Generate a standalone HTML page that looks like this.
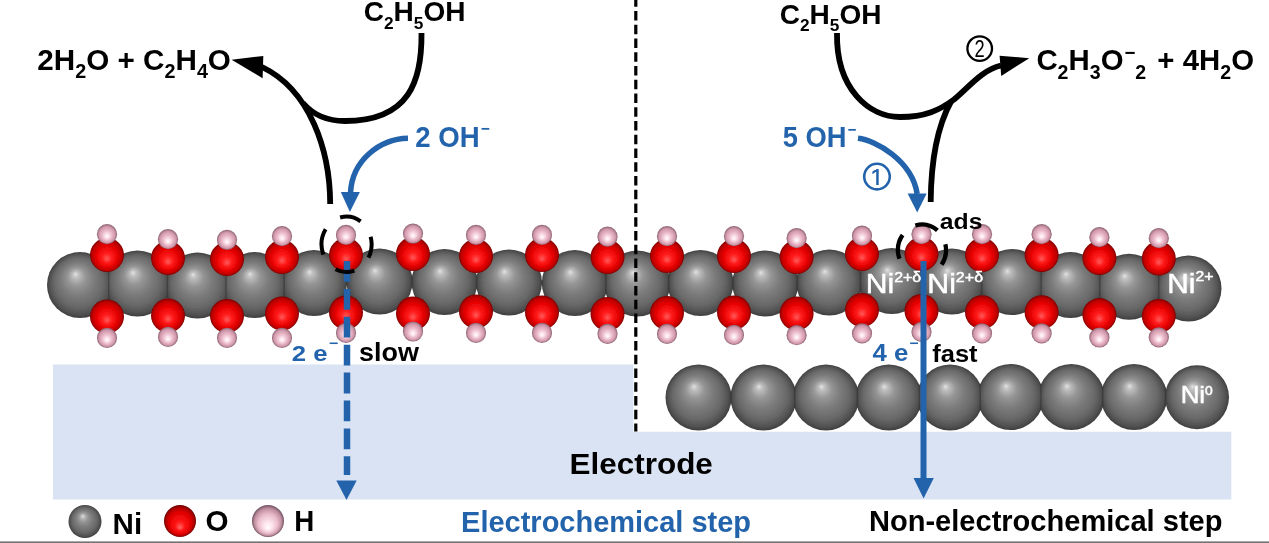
<!DOCTYPE html>
<html><head><meta charset="utf-8"><style>
html,body{margin:0;padding:0;background:#fff;width:1269px;height:543px;overflow:hidden}
svg{display:block}
text{font-family:"Liberation Sans",sans-serif;font-weight:bold;font-kerning:none}
</style></head><body>
<svg width="1269" height="543" viewBox="0 0 1269 543">
<defs>
<clipPath id="c0_0"><rect x="663.50" y="362.50" width="68.10" height="70.00"/></clipPath><clipPath id="c0_1"><rect x="730.40" y="362.50" width="64.95" height="70.00"/></clipPath><clipPath id="c0_2"><rect x="794.15" y="362.50" width="63.85" height="70.00"/></clipPath><clipPath id="c0_3"><rect x="856.80" y="362.50" width="63.20" height="70.00"/></clipPath><clipPath id="c0_4"><rect x="918.80" y="362.50" width="62.10" height="70.00"/></clipPath><clipPath id="c0_5"><rect x="979.70" y="362.00" width="61.90" height="70.00"/></clipPath><clipPath id="c0_6"><rect x="1040.40" y="362.00" width="62.90" height="70.00"/></clipPath><clipPath id="c0_7"><rect x="1102.10" y="362.00" width="64.00" height="70.00"/></clipPath><clipPath id="c0_8"><rect x="1164.90" y="363.30" width="66.10" height="68.00"/></clipPath><clipPath id="c1_0"><rect x="45.00" y="250.00" width="64.35" height="70.00"/></clipPath><clipPath id="c1_1"><rect x="108.15" y="248.50" width="59.95" height="70.00"/></clipPath><clipPath id="c1_2"><rect x="166.90" y="250.50" width="59.70" height="70.00"/></clipPath><clipPath id="c1_3"><rect x="225.40" y="250.00" width="59.45" height="70.00"/></clipPath><clipPath id="c1_4"><rect x="283.65" y="248.00" width="63.70" height="70.00"/></clipPath><clipPath id="c1_5"><rect x="346.15" y="246.50" width="66.45" height="70.00"/></clipPath><clipPath id="c1_6"><rect x="411.40" y="247.00" width="65.95" height="70.00"/></clipPath><clipPath id="c1_7"><rect x="476.15" y="247.50" width="66.33" height="70.00"/></clipPath><clipPath id="c1_8"><rect x="541.27" y="248.00" width="65.33" height="70.00"/></clipPath><clipPath id="c1_9"><rect x="605.40" y="248.50" width="64.08" height="70.00"/></clipPath><clipPath id="c1_10"><rect x="668.27" y="248.00" width="65.23" height="70.00"/></clipPath><clipPath id="c1_11"><rect x="732.30" y="248.50" width="65.60" height="70.00"/></clipPath><clipPath id="c1_12"><rect x="796.70" y="247.50" width="64.43" height="70.00"/></clipPath><clipPath id="c1_13"><rect x="859.92" y="246.00" width="62.43" height="70.00"/></clipPath><clipPath id="c1_14"><rect x="921.15" y="246.50" width="61.23" height="70.00"/></clipPath><clipPath id="c1_15"><rect x="981.17" y="247.00" width="60.58" height="70.00"/></clipPath><clipPath id="c1_16"><rect x="1040.55" y="250.00" width="59.85" height="70.00"/></clipPath><clipPath id="c1_17"><rect x="1099.20" y="251.75" width="60.20" height="70.00"/></clipPath><clipPath id="c1_18"><rect x="1158.20" y="253.50" width="65.30" height="70.00"/></clipPath>
<filter id="bl" x="0" y="0" width="1269" height="543" filterUnits="userSpaceOnUse"><feGaussianBlur stdDeviation="0.5"/></filter>
<radialGradient id="gNi" cx="0.5" cy="0.5" r="0.5" fx="0.43" fy="0.33">
<stop offset="0" stop-color="#e2e2e2"/><stop offset="0.1" stop-color="#bdbdbd"/><stop offset="0.28" stop-color="#959595"/><stop offset="0.5" stop-color="#7c7c7c"/><stop offset="0.75" stop-color="#686868"/><stop offset="0.92" stop-color="#505050"/><stop offset="1" stop-color="#3e3e3e"/>
</radialGradient>
<radialGradient id="gO" cx="0.5" cy="0.5" r="0.5" fx="0.5" fy="0.62">
<stop offset="0" stop-color="#ff5a5a"/><stop offset="0.3" stop-color="#ff1a1a"/><stop offset="0.65" stop-color="#e40000"/><stop offset="0.88" stop-color="#bc0000"/><stop offset="1" stop-color="#7e0000"/>
</radialGradient>
<radialGradient id="gH" cx="0.5" cy="0.5" r="0.5" fx="0.5" fy="0.62">
<stop offset="0" stop-color="#ffffff"/><stop offset="0.2" stop-color="#fbe4ec"/><stop offset="0.5" stop-color="#eab8c8"/><stop offset="0.8" stop-color="#cf98aa"/><stop offset="1" stop-color="#8a6070"/>
</radialGradient>
<radialGradient id="gOL" cx="0.5" cy="0.5" r="0.5" fx="0.5" fy="0.72">
<stop offset="0" stop-color="#ff6a6a"/><stop offset="0.3" stop-color="#ff1414"/><stop offset="0.7" stop-color="#e00000"/><stop offset="0.9" stop-color="#a80000"/><stop offset="1" stop-color="#6a0000"/>
</radialGradient>
<radialGradient id="gHL" cx="0.5" cy="0.5" r="0.5" fx="0.5" fy="0.72">
<stop offset="0" stop-color="#ffffff"/><stop offset="0.25" stop-color="#fde6ee"/><stop offset="0.6" stop-color="#ebbccb"/><stop offset="0.85" stop-color="#be8e9e"/><stop offset="1" stop-color="#6e5060"/>
</radialGradient>
</defs>
<g filter="url(#bl)">
<rect width="1269" height="543" fill="#fff"/>
<path d="M53 364.5 H633.4 V431.8 H1231.3 V499.5 H53 Z" fill="#dae3f3"/>
<circle cx="698.5" cy="397.5" r="33" fill="url(#gNi)" clip-path="url(#c0_0)"/>
<circle cx="763.5" cy="397.5" r="33" fill="url(#gNi)" clip-path="url(#c0_1)"/>
<circle cx="826.0" cy="397.5" r="33" fill="url(#gNi)" clip-path="url(#c0_2)"/>
<circle cx="888.8" cy="397.5" r="33" fill="url(#gNi)" clip-path="url(#c0_3)"/>
<circle cx="950.0" cy="397.5" r="33" fill="url(#gNi)" clip-path="url(#c0_4)"/>
<circle cx="1010.6" cy="397.0" r="33" fill="url(#gNi)" clip-path="url(#c0_5)"/>
<circle cx="1071.4" cy="397.0" r="33" fill="url(#gNi)" clip-path="url(#c0_6)"/>
<circle cx="1134.0" cy="397.0" r="33" fill="url(#gNi)" clip-path="url(#c0_7)"/>
<circle cx="1197.0" cy="397.3" r="32" fill="url(#gNi)" clip-path="url(#c0_8)"/>
<line x1="731.00" y1="391.78" x2="731.00" y2="403.22" stroke="#333" stroke-opacity="0.55" stroke-width="1.3"/>
<line x1="794.75" y1="386.90" x2="794.75" y2="408.10" stroke="#333" stroke-opacity="0.55" stroke-width="1.3"/>
<line x1="857.40" y1="387.35" x2="857.40" y2="407.65" stroke="#333" stroke-opacity="0.55" stroke-width="1.3"/>
<line x1="919.40" y1="385.15" x2="919.40" y2="409.85" stroke="#333" stroke-opacity="0.55" stroke-width="1.3"/>
<line x1="980.30" y1="384.18" x2="980.30" y2="410.32" stroke="#333" stroke-opacity="0.55" stroke-width="1.3"/>
<line x1="1041.00" y1="384.16" x2="1041.00" y2="409.84" stroke="#333" stroke-opacity="0.55" stroke-width="1.3"/>
<line x1="1102.70" y1="386.54" x2="1102.70" y2="407.46" stroke="#333" stroke-opacity="0.55" stroke-width="1.3"/>
<line x1="1165.50" y1="387.31" x2="1165.50" y2="406.99" stroke="#333" stroke-opacity="0.55" stroke-width="1.3"/>
<circle cx="80.0" cy="285.0" r="33" fill="url(#gNi)" clip-path="url(#c1_0)"/>
<circle cx="137.5" cy="283.5" r="33" fill="url(#gNi)" clip-path="url(#c1_1)"/>
<circle cx="197.5" cy="285.5" r="33" fill="url(#gNi)" clip-path="url(#c1_2)"/>
<circle cx="254.5" cy="285.0" r="33" fill="url(#gNi)" clip-path="url(#c1_3)"/>
<circle cx="314.0" cy="283.0" r="33" fill="url(#gNi)" clip-path="url(#c1_4)"/>
<circle cx="379.5" cy="281.5" r="33" fill="url(#gNi)" clip-path="url(#c1_5)"/>
<circle cx="444.5" cy="282.0" r="33" fill="url(#gNi)" clip-path="url(#c1_6)"/>
<circle cx="509.0" cy="282.5" r="33" fill="url(#gNi)" clip-path="url(#c1_7)"/>
<circle cx="574.8" cy="283.0" r="33" fill="url(#gNi)" clip-path="url(#c1_8)"/>
<circle cx="637.2" cy="283.5" r="33" fill="url(#gNi)" clip-path="url(#c1_9)"/>
<circle cx="700.5" cy="283.0" r="33" fill="url(#gNi)" clip-path="url(#c1_10)"/>
<circle cx="765.3" cy="283.5" r="33" fill="url(#gNi)" clip-path="url(#c1_11)"/>
<circle cx="829.3" cy="282.5" r="33" fill="url(#gNi)" clip-path="url(#c1_12)"/>
<circle cx="891.8" cy="281.0" r="33" fill="url(#gNi)" clip-path="url(#c1_13)"/>
<circle cx="951.8" cy="281.5" r="33" fill="url(#gNi)" clip-path="url(#c1_14)"/>
<circle cx="1011.8" cy="282.0" r="33" fill="url(#gNi)" clip-path="url(#c1_15)"/>
<circle cx="1070.5" cy="285.0" r="33" fill="url(#gNi)" clip-path="url(#c1_16)"/>
<circle cx="1129.1" cy="286.8" r="33" fill="url(#gNi)" clip-path="url(#c1_17)"/>
<circle cx="1188.5" cy="288.5" r="33" fill="url(#gNi)" clip-path="url(#c1_18)"/>
<line x1="108.75" y1="268.05" x2="108.75" y2="300.45" stroke="#333" stroke-opacity="0.55" stroke-width="1.3"/>
<line x1="167.50" y1="270.75" x2="167.50" y2="298.25" stroke="#333" stroke-opacity="0.55" stroke-width="1.3"/>
<line x1="226.00" y1="268.61" x2="226.00" y2="301.89" stroke="#333" stroke-opacity="0.55" stroke-width="1.3"/>
<line x1="284.25" y1="269.72" x2="284.25" y2="298.28" stroke="#333" stroke-opacity="0.55" stroke-width="1.3"/>
<line x1="346.75" y1="278.20" x2="346.75" y2="286.30" stroke="#333" stroke-opacity="0.55" stroke-width="1.3"/>
<line x1="412.00" y1="276.03" x2="412.00" y2="287.47" stroke="#333" stroke-opacity="0.55" stroke-width="1.3"/>
<line x1="476.75" y1="275.25" x2="476.75" y2="289.25" stroke="#333" stroke-opacity="0.55" stroke-width="1.3"/>
<line x1="541.88" y1="279.88" x2="541.88" y2="285.62" stroke="#333" stroke-opacity="0.55" stroke-width="1.3"/>
<line x1="606.00" y1="272.65" x2="606.00" y2="293.85" stroke="#333" stroke-opacity="0.55" stroke-width="1.3"/>
<line x1="668.88" y1="273.82" x2="668.88" y2="292.68" stroke="#333" stroke-opacity="0.55" stroke-width="1.3"/>
<line x1="732.90" y1="276.99" x2="732.90" y2="289.51" stroke="#333" stroke-opacity="0.55" stroke-width="1.3"/>
<line x1="797.30" y1="274.94" x2="797.30" y2="291.06" stroke="#333" stroke-opacity="0.55" stroke-width="1.3"/>
<line x1="860.52" y1="271.07" x2="860.52" y2="292.43" stroke="#333" stroke-opacity="0.55" stroke-width="1.3"/>
<line x1="921.75" y1="267.50" x2="921.75" y2="295.00" stroke="#333" stroke-opacity="0.55" stroke-width="1.3"/>
<line x1="981.77" y1="268.06" x2="981.77" y2="295.44" stroke="#333" stroke-opacity="0.55" stroke-width="1.3"/>
<line x1="1041.15" y1="268.41" x2="1041.15" y2="298.59" stroke="#333" stroke-opacity="0.55" stroke-width="1.3"/>
<line x1="1099.80" y1="270.69" x2="1099.80" y2="301.06" stroke="#333" stroke-opacity="0.55" stroke-width="1.3"/>
<line x1="1158.80" y1="273.24" x2="1158.80" y2="302.01" stroke="#333" stroke-opacity="0.55" stroke-width="1.3"/>
<circle cx="107.0" cy="255.0" r="17" fill="url(#gO)"/>
<circle cx="107.0" cy="316.5" r="17" fill="url(#gO)"/>
<circle cx="168.0" cy="258.0" r="17" fill="url(#gO)"/>
<circle cx="168.0" cy="315.5" r="17" fill="url(#gO)"/>
<circle cx="227.0" cy="259.0" r="17" fill="url(#gO)"/>
<circle cx="227.0" cy="316.0" r="17" fill="url(#gO)"/>
<circle cx="282.0" cy="257.0" r="17" fill="url(#gO)"/>
<circle cx="282.0" cy="313.5" r="17" fill="url(#gO)"/>
<circle cx="346.0" cy="255.0" r="17" fill="url(#gO)"/>
<circle cx="346.0" cy="312.5" r="17" fill="url(#gO)"/>
<circle cx="413.0" cy="254.0" r="17" fill="url(#gO)"/>
<circle cx="413.0" cy="313.5" r="17" fill="url(#gO)"/>
<circle cx="476.0" cy="256.0" r="17" fill="url(#gO)"/>
<circle cx="476.0" cy="311.5" r="17" fill="url(#gO)"/>
<circle cx="542.0" cy="255.0" r="17" fill="url(#gO)"/>
<circle cx="542.0" cy="312.5" r="17" fill="url(#gO)"/>
<circle cx="607.5" cy="257.0" r="17" fill="url(#gO)"/>
<circle cx="607.5" cy="313.9" r="17" fill="url(#gO)"/>
<circle cx="667.0" cy="256.0" r="17" fill="url(#gO)"/>
<circle cx="667.0" cy="313.0" r="17" fill="url(#gO)"/>
<circle cx="734.0" cy="256.0" r="17" fill="url(#gO)"/>
<circle cx="734.0" cy="312.5" r="17" fill="url(#gO)"/>
<circle cx="796.6" cy="257.0" r="17" fill="url(#gO)"/>
<circle cx="796.6" cy="313.5" r="17" fill="url(#gO)"/>
<circle cx="862.0" cy="254.0" r="17" fill="url(#gO)"/>
<circle cx="862.0" cy="310.0" r="17" fill="url(#gO)"/>
<circle cx="921.5" cy="254.0" r="17" fill="url(#gO)"/>
<circle cx="921.5" cy="311.0" r="17" fill="url(#gO)"/>
<circle cx="982.0" cy="255.0" r="17" fill="url(#gO)"/>
<circle cx="982.0" cy="312.3" r="17" fill="url(#gO)"/>
<circle cx="1041.6" cy="255.0" r="17" fill="url(#gO)"/>
<circle cx="1041.6" cy="312.3" r="17" fill="url(#gO)"/>
<circle cx="1099.4" cy="258.0" r="17" fill="url(#gO)"/>
<circle cx="1099.4" cy="315.1" r="17" fill="url(#gO)"/>
<circle cx="1158.8" cy="258.5" r="17" fill="url(#gO)"/>
<circle cx="1158.8" cy="316.0" r="17" fill="url(#gO)"/>
<circle cx="107.0" cy="234.2" r="10.1" fill="url(#gH)"/>
<circle cx="168.0" cy="239.2" r="10.1" fill="url(#gH)"/>
<circle cx="227.0" cy="239.8" r="10.1" fill="url(#gH)"/>
<circle cx="282.0" cy="236.2" r="10.1" fill="url(#gH)"/>
<circle cx="346.0" cy="234.9" r="10.1" fill="url(#gH)"/>
<circle cx="413.0" cy="233.6" r="10.1" fill="url(#gH)"/>
<circle cx="476.0" cy="234.9" r="10.1" fill="url(#gH)"/>
<circle cx="542.0" cy="234.9" r="10.1" fill="url(#gH)"/>
<circle cx="607.5" cy="236.7" r="10.1" fill="url(#gH)"/>
<circle cx="667.0" cy="236.2" r="10.1" fill="url(#gH)"/>
<circle cx="734.0" cy="236.2" r="10.1" fill="url(#gH)"/>
<circle cx="796.6" cy="238.2" r="10.1" fill="url(#gH)"/>
<circle cx="862.0" cy="235.7" r="10.1" fill="url(#gH)"/>
<circle cx="921.5" cy="234.2" r="10.1" fill="url(#gH)"/>
<circle cx="982.0" cy="234.2" r="10.1" fill="url(#gH)"/>
<circle cx="1041.6" cy="234.2" r="10.1" fill="url(#gH)"/>
<circle cx="1099.4" cy="237.2" r="10.1" fill="url(#gH)"/>
<circle cx="1158.8" cy="238.2" r="10.1" fill="url(#gH)"/>
<circle cx="107.0" cy="337.8" r="10.1" fill="url(#gH)"/>
<circle cx="168.0" cy="336.8" r="10.1" fill="url(#gH)"/>
<circle cx="227.0" cy="337.8" r="10.1" fill="url(#gH)"/>
<circle cx="282.0" cy="337.8" r="10.1" fill="url(#gH)"/>
<circle cx="346.0" cy="332.8" r="10.1" fill="url(#gH)"/>
<circle cx="413.0" cy="331.5" r="10.1" fill="url(#gH)"/>
<circle cx="476.0" cy="332.8" r="10.1" fill="url(#gH)"/>
<circle cx="542.0" cy="332.8" r="10.1" fill="url(#gH)"/>
<circle cx="607.5" cy="333.8" r="10.1" fill="url(#gH)"/>
<circle cx="667.0" cy="333.8" r="10.1" fill="url(#gH)"/>
<circle cx="734.0" cy="334.8" r="10.1" fill="url(#gH)"/>
<circle cx="796.6" cy="335.2" r="10.1" fill="url(#gH)"/>
<circle cx="862.0" cy="333.4" r="10.1" fill="url(#gH)"/>
<circle cx="921.5" cy="331.8" r="10.1" fill="url(#gH)"/>
<circle cx="982.0" cy="333.4" r="10.1" fill="url(#gH)"/>
<circle cx="1041.6" cy="333.4" r="10.1" fill="url(#gH)"/>
<circle cx="1099.4" cy="337.5" r="10.1" fill="url(#gH)"/>
<circle cx="1158.8" cy="337.3" r="10.1" fill="url(#gH)"/>
<line x1="635.8" y1="0" x2="635.8" y2="431.5" stroke="#000" stroke-width="3.2" stroke-dasharray="9.5 4.25" stroke-dashoffset="2.75"/>
<rect x="0" y="541.4" width="1269" height="1.6" fill="#737373"/>
<g fill="none" stroke="#000" stroke-width="5.8">
<path d="M421.5 33 C422 80 410 121 345 121 C328 121 314 116 303 103"/>
<path d="M330.2 204 C330 150 310 90 262 67"/>
<path d="M837 33 C836 90 870 117 900 117 C925 117 940 110 954 99.5 C970 86 982 70 1001 65.5"/>
<path d="M930.7 202 C931 160 937 127 951 101.5"/>
</g>
<path d="M231.6 59.7 L263.3 56 L262.6 78.2 Z" fill="#000"/>
<path d="M1029.3 58.2 L999.6 55.7 L1001.2 76 Z" fill="#000"/>
<g fill="none" stroke="#2464ac" stroke-width="5.5">
<path d="M408 138.3 C380 139 352 160 350.5 193"/>
<path d="M858 138.3 C875 140 912 160 917.2 194"/>
<line x1="347" y1="261" x2="347" y2="475" stroke-width="6.5" stroke-dasharray="20.8 7.1"/>
<line x1="923.5" y1="261" x2="923.5" y2="481" stroke-width="6"/>
</g>
<path d="M340.8 192.1 L359.9 192.1 L349.9 212 Z" fill="#2464ac"/>
<path d="M907.6 193.4 L926.7 193.4 L917.2 212.4 Z" fill="#2464ac"/>
<path d="M336.3 480.5 L356.7 480.5 L346.5 500 Z" fill="#2464ac"/>
<path d="M913.5 478 L933.8 478 L923.6 498.5 Z" fill="#2464ac"/>
<path d="M340.13 217.54 A25 27.7 0 0 1 360.58 221.34 M370.63 236.66 A25 27.7 0 0 1 368.47 257.73 M354.33 270.64 A25 27.7 0 0 1 335.64 269.20 M323.42 254.68 A25 27.7 0 0 1 325.63 229.21" fill="none" stroke="#000" stroke-width="4"/><path d="M915.38 225.49 A24 25.5 0 0 1 937.43 230.47 M945.38 244.26 A24 25.5 0 0 1 941.66 264.63 M899.45 258.72 A24 25.5 0 0 1 902.58 235.01" fill="none" stroke="#000" stroke-width="4.3"/>
<text transform="translate(37.27,69.50) scale(0.9886,1)" fill="#000"><tspan x="0.00" y="0.00" font-size="30">2H</tspan><tspan x="38.35" y="8.50" font-size="20">2</tspan><tspan x="49.47" y="0.00" font-size="30">O + C</tspan><tspan x="128.66" y="8.50" font-size="20">2</tspan><tspan x="139.79" y="0.00" font-size="30">H</tspan><tspan x="161.45" y="8.50" font-size="20">4</tspan><tspan x="172.57" y="0.00" font-size="30">O</tspan></text>
<text transform="translate(363.65,21.20) scale(1.0167,1)" fill="#000"><tspan x="0.00" y="0.00" font-size="27.6">C</tspan><tspan x="19.93" y="7.50" font-size="17">2</tspan><tspan x="29.39" y="0.00" font-size="27.6">H</tspan><tspan x="49.32" y="7.50" font-size="17">5</tspan><tspan x="58.77" y="0.00" font-size="27.6">OH</tspan></text>
<text transform="translate(779.65,23.60) scale(1.0167,1)" fill="#000"><tspan x="0.00" y="0.00" font-size="27.6">C</tspan><tspan x="19.93" y="7.50" font-size="17">2</tspan><tspan x="29.39" y="0.00" font-size="27.6">H</tspan><tspan x="49.32" y="7.50" font-size="17">5</tspan><tspan x="58.77" y="0.00" font-size="27.6">OH</tspan></text>
<text transform="translate(1036.39,70.30) scale(0.9798,1)" fill="#000"><tspan x="0.00" y="0.00" font-size="30">C</tspan><tspan x="21.67" y="8.80" font-size="20">2</tspan><tspan x="32.79" y="0.00" font-size="30">H</tspan><tspan x="54.45" y="8.80" font-size="20">3</tspan><tspan x="65.58" y="0.00" font-size="30">O</tspan><tspan x="89.91" y="-11.70" font-size="19">−</tspan><tspan x="101.01" y="8.80" font-size="20">2</tspan><tspan x="115.13" y="0.00" font-size="30"> + 4H</tspan><tspan x="187.67" y="8.80" font-size="20">2</tspan><tspan x="198.79" y="0.00" font-size="30">O</tspan></text>
<text transform="translate(415.24,146.80) scale(0.9591,1)" fill="#2464ac"><tspan x="0.00" y="0.00" font-size="28.8">2 OH</tspan><tspan x="68.22" y="-12.50" font-size="16">−</tspan></text>
<text transform="translate(782.66,147.00) scale(0.9427,1)" fill="#2464ac"><tspan x="0.00" y="0.00" font-size="29">5 OH</tspan><tspan x="68.69" y="-12.50" font-size="16">−</tspan></text>
<text transform="translate(291.81,360.90) scale(1.1472,1)" fill="#2464ac"><tspan x="0.00" y="0.00" font-size="22.4">2 e</tspan><tspan x="32.14" y="-13.00" font-size="14">−</tspan></text>
<text transform="translate(872.41,361.20) scale(1.1211,1)" fill="#2464ac"><tspan x="0.00" y="0.00" font-size="23">4 e</tspan><tspan x="32.97" y="-13.00" font-size="14">−</tspan></text>
<text transform="translate(359.05,360.90) scale(1.0445,1)" fill="#000"><tspan x="0.00" y="0.00" font-size="25.8">slow</tspan></text>
<text transform="translate(932.26,362.30) scale(1.0282,1)" fill="#000"><tspan x="0.00" y="0.00" font-size="24.8">fast</tspan></text>
<text transform="translate(939.78,228.50) scale(1.1351,1)" fill="#000"><tspan x="0.00" y="0.00" font-size="21.8">ads</tspan></text>
<text transform="translate(569.50,474.00) scale(1.0418,1)" fill="#000"><tspan x="0.00" y="0.00" font-size="30.2">Electrode</tspan></text>
<text transform="translate(461.06,531.80) scale(0.9603,1)" fill="#2464ac"><tspan x="0.00" y="0.00" font-size="30.2">Electrochemical step</tspan></text>
<text transform="translate(868.96,531.30) scale(0.9751,1)" fill="#000"><tspan x="0.00" y="0.00" font-size="29.8">Non-electrochemical step</tspan></text>
<text transform="translate(112.62,533.50) scale(1.0232,1)" fill="#000"><tspan x="0.00" y="0.00" font-size="28.9">Ni</tspan></text>
<text transform="translate(205.58,531.30) scale(1.0084,1)" fill="#000"><tspan x="0.00" y="0.00" font-size="29.4">O</tspan></text>
<text transform="translate(294.35,530.50) scale(0.9431,1)" fill="#000"><tspan x="0.00" y="0.00" font-size="29.4">H</tspan></text>
<text transform="translate(865.73,292.80) scale(1.1202,1)" fill="#fff" font-weight="normal" style="font-weight:normal" stroke="#fff" stroke-width="0.5"><tspan x="0.00" y="0.00" font-size="26.9">Ni</tspan><tspan x="25.40" y="-11.20" font-size="14.2">2+δ</tspan></text>
<text transform="translate(927.21,292.80) scale(1.1288,1)" fill="#fff" font-weight="normal" style="font-weight:normal" stroke="#fff" stroke-width="0.5"><tspan x="0.00" y="0.00" font-size="26.9">Ni</tspan><tspan x="25.40" y="-11.20" font-size="14.2">2+δ</tspan></text>
<text transform="translate(1167.36,292.50) scale(1.1064,1)" fill="#fff" font-weight="normal" style="font-weight:normal" stroke="#fff" stroke-width="0.5"><tspan x="0.00" y="0.00" font-size="26.9">Ni</tspan><tspan x="25.40" y="-11.20" font-size="14.2">2+</tspan></text>
<text transform="translate(1180.68,403.40) scale(1.1016,1)" fill="#fff" font-weight="normal" style="font-weight:normal" stroke="#fff" stroke-width="0.5"><tspan x="0.00" y="0.00" font-size="23.5">Ni</tspan><tspan x="22.19" y="-8.00" font-size="12.6">0</tspan></text>
<circle cx="85" cy="521.5" r="16.5" fill="url(#gNi)"/>
<circle cx="180" cy="521" r="16" fill="url(#gOL)"/>
<circle cx="268" cy="521" r="16" fill="url(#gHL)"/>
<circle cx="979.7" cy="48.6" r="12.3" fill="none" stroke="#000" stroke-width="2.3"/>
<text transform="translate(979.6,57.4) scale(0.78,1)" font-size="23.5" text-anchor="middle" style="font-weight:normal" fill="#000">2</text>
<circle cx="877" cy="176.6" r="12.8" fill="none" stroke="#2464ac" stroke-width="2.6"/>
<path d="M876.2 168.9 H878.7 V185.1 H876.2 Z M872.4 171.6 L876.4 168.9 L876.4 171.6 L872.4 174.2 Z" fill="#2464ac"/>
</g>
</svg>
</body></html>
